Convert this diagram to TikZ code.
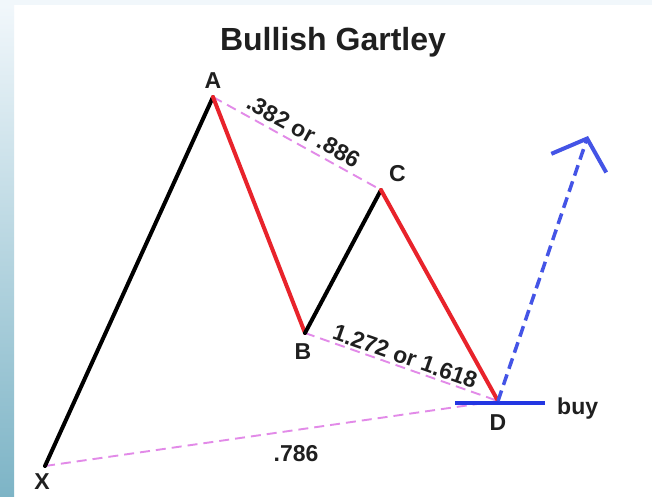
\documentclass[tikz,border=0pt]{standalone}
\usepackage{fontspec}
\setmainfont{Liberation Sans}
\usetikzlibrary{arrows.meta}
\definecolor{legred}{HTML}{E8232B}
\definecolor{fibpink}{HTML}{E28AE8}
\definecolor{buyblue}{HTML}{2336E2}
\definecolor{edgeteal}{HTML}{7DB4C6}
\definecolor{edgelight}{HTML}{F1F7FB}
\begin{document}
\begin{tikzpicture}[x=1pt,y=-1pt,
  leg/.style={line width=4pt,line cap=round},
  fib/.style={fibpink,line width=1.9pt,dash pattern=on 10pt off 6pt},
  lbl/.style={text=black!88,font=\fontsize{23}{26}\selectfont\bfseries,inner sep=2pt}]
  \useasboundingbox (0,0) rectangle (652,497);
  \fill[white] (0,0) rectangle (652,497);
  \fill[edgelight] (0,0) rectangle (652,5);
  \shade[top color=edgelight,bottom color=edgeteal] (0,5) rectangle (14,497);
  % pattern points
  \coordinate (X) at (45,466);
  \coordinate (A) at (213,97);
  \coordinate (B) at (305,333);
  \coordinate (C) at (381,190);
  \coordinate (D) at (498,401);
  \coordinate (buyL) at (455,403);
  \coordinate (buyR) at (545,403);
  \coordinate (tgt) at (588,136);
  \node[text=black!88,font=\fontsize{32}{36}\selectfont\bfseries] (title) at (333,42) {Bullish Gartley};
  % fib ratios
  \draw[fib] (A) -- (C) node[lbl,midway,above=3pt,sloped] (rAC) {.382 or .886};
  \draw[fib] (B) -- (D) node[lbl,midway,above,sloped] (rBD) {1.272 or 1.618};
  \draw[fib] (X) -- (D);
  \node[lbl] (rXD) at (296,454) {.786};
  % legs
  \draw[leg] (X) -- (A);
  \draw[leg,legred] (A) -- (B);
  \draw[leg] (B) -- (C);
  \draw[leg,legred] (C) -- (D);
  % buy zone
  \draw[buyblue,line width=4pt] (buyL) -- (buyR);
  \node[lbl,right=10pt,yshift=-6pt] (buy) at (buyR) {buy};
  \draw[buyblue!85,line width=3.5pt,dash pattern=on 11pt off 6pt,line join=round,
    -{Straight Barb[length=26pt,width=58pt,line width=4pt]}] (D) -- (tgt);
  \node[lbl,above=6pt] (lA) at (A) {A};
  \node[lbl,below=8pt,xshift=-2pt] (lB) at (B) {B};
  \node[lbl,above right=6pt] (lC) at (C) {C};
  \node[lbl,below=11pt] (lD) at (D) {D};
  \node[lbl,below=5pt,xshift=-3pt] (lX) at (X) {X};
\end{tikzpicture}
\end{document}
